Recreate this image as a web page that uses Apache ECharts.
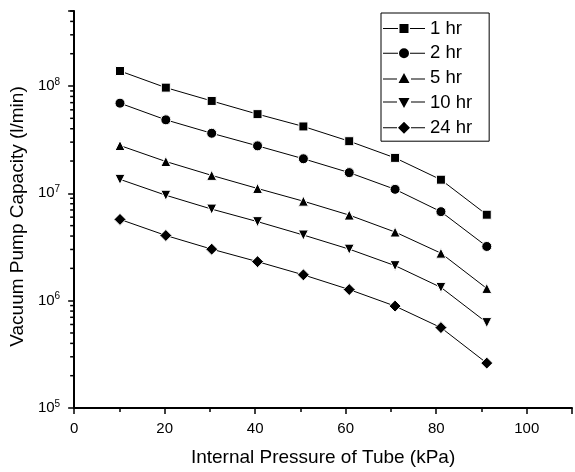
<!DOCTYPE html>
<html><head><meta charset="utf-8">
<script src="https://cdn.jsdelivr.net/npm/echarts@6/dist/echarts.min.js"></script>
<style>html,body{margin:0;padding:0;background:#fff}#c{width:575px;height:472px}</style>
</head><body><div id="c"></div>
<script>
// Internal pressure (kPa)
var pressure = [10.13, 20.26, 30.39, 40.52, 50.65, 60.78, 70.91, 81.04, 91.17];
var seriesNames = ['1 hr', '2 hr', '5 hr', '10 hr', '24 hr'];
var cap1hr  = [1.38e8, 9.66e7, 7.26e7, 5.47e7, 4.2e7, 3.06e7, 2.14e7, 1.34e7, 6.32e6];
var cap2hr  = [6.92e7, 4.84e7, 3.63e7, 2.77e7, 2.10e7, 1.56e7, 1.09e7, 6.75e6, 3.20e6];
var cap5hr  = [2.79e7, 1.98e7, 1.47e7, 1.11e7, 8.45e6, 6.27e6, 4.36e6, 2.77e6, 1.30e6];
var cap10hr = [1.35e7, 9.6e6, 7.13e6, 5.45e6, 4.09e6, 3.02e6, 2.12e6, 1.33e6, 6.25e5];
var cap24hr = [5.72e6, 4.05e6, 3.02e6, 2.31e6, 1.74e6, 1.27e6, 8.9e5, 5.61e5, 2.62e5];
var xTicks = [0, 20, 40, 60, 80, 100];
var yMinorTicks = [];
[1e5, 1e6, 1e7, 1e8].forEach(function (d) { for (var k = 2; k <= 9; k++) { if (k * d <= 5e8) yMinorTicks.push(k * d); } });

var FONT = 'Arial, "Liberation Sans", sans-serif';
var chart = echarts.init(document.getElementById('c'), null, {renderer: 'canvas'});
var symbols = ['rect', 'circle', 'triangle', 'triangle', 'diamond'];
var rot = [0, 0, 0, 180, 0];
var sizes = [9, 10, 10, 10, 12];
var allData = [cap1hr, cap2hr, cap5hr, cap10hr, cap24hr];

// legend icons: line sample with marker in the middle
var legendIcons = [
  'path://M0 4L15 4L15 5L0 5Z M27 4L42 4L42 5L27 5Z M16.5 0L25.5 0L25.5 9L16.5 9Z',
  'path://M0 4.5L15 4.5L15 5.5L0 5.5Z M27 4.5L42 4.5L42 5.5L27 5.5Z M16 5A5 5 0 1 1 26 5A5 5 0 1 1 16 5Z',
  'path://M0 5.5L14 5.5L14 6.5L0 6.5Z M28 5.5L42 5.5L42 6.5L28 6.5Z M21 0L26.5 10L15.5 10Z',
  'path://M0 3.5L14 3.5L14 4.5L0 4.5Z M28 3.5L42 3.5L42 4.5L28 4.5Z M15.5 0L26.5 0L21 10Z',
  'path://M0 5.5L14 5.5L14 6.5L0 6.5Z M28 5.5L42 5.5L42 6.5L28 6.5Z M21 0L27 6L21 12L15 6Z'
];

var series = allData.map(function (arr, i) {
  return {
    name: seriesNames[i], type: 'line',
    data: arr.map(function (v, j) { return [pressure[j], v]; }),
    symbol: symbols[i], symbolRotate: rot[i], symbolSize: sizes[i], showSymbol: true,
    lineStyle: {color: '#000', width: 1},
    itemStyle: {color: '#000', borderColor: '#fff', borderWidth: 1},
    z: 3, animation: false
  };
});
series.push({
  type: 'custom', name: 'minorTicks', silent: true, clip: false, animation: false,
  data: yMinorTicks.map(function (v) { return [0, v]; }),
  renderItem: function (params, api) {
    var p = api.coord([api.value(0), api.value(1)]);
    return {type: 'line', shape: {x1: p[0] - 4, y1: p[1], x2: p[0], y2: p[1]},
      style: {stroke: '#000', lineWidth: 1.5}};
  }
});

chart.setOption({
  backgroundColor: '#fff',
  animation: false,
  textStyle: {fontFamily: FONT, color: '#000'},
  grid: {left: 70, right: -1, top: 11, bottom: 61, containLabel: false},
  legend: {
    data: seriesNames.map(function (n, i) { return {name: n, icon: legendIcons[i]}; }),
    orient: 'vertical', left: 381, top: 13,
    padding: [6, 17, 4, 2], itemGap: 5.8, itemWidth: 42, itemHeight: 13,
    itemStyle: {color: '#000', borderWidth: 0},
    borderColor: '#000', borderWidth: 1, borderRadius: 0,
    textStyle: {fontFamily: FONT, fontSize: 18.5, color: '#000'}
  },
  xAxis: {
    type: 'value', min: 0, max: 110, interval: 20,
    name: 'Internal Pressure of Tube (kPa)', nameLocation: 'middle', nameGap: 40,
    nameTextStyle: {fontFamily: FONT, fontSize: 19, color: '#000'},
    axisLine: {show: true, lineStyle: {color: '#000', width: 2}},
    axisTick: {show: true, inside: false, length: 6, lineStyle: {color: '#000', width: 1.5}},
    minorTick: {show: true, splitNumber: 2, length: 4, lineStyle: {color: '#000', width: 1.5}},
    splitLine: {show: false},
    axisLabel: {fontFamily: FONT, fontSize: 15, color: '#000', margin: 13,
      formatter: function (v) { return xTicks.indexOf(v) >= 0 ? String(v) : ''; }}
  },
  yAxis: {
    type: 'log', logBase: 10, min: 1e5, max: 5e8,
    name: 'Vacuum Pump Capacity (l/min)', nameLocation: 'middle', nameGap: 46,
    nameRotate: 90,
    nameTextStyle: {fontFamily: FONT, fontSize: 19, color: '#000', padding: [0, 14, 0, 0]},
    axisLine: {show: true, lineStyle: {color: '#000', width: 2}},
    axisTick: {show: true, inside: false, length: 6, lineStyle: {color: '#000', width: 1.5}},
    splitLine: {show: false},
    axisLabel: {
      margin: 14, fontFamily: FONT, color: '#000',
      formatter: function (v) {
        var e = Math.log10(v);
        if (Math.abs(e - Math.round(e)) > 1e-6) return '';
        return '{b|10}{s|' + Math.round(e) + '}';
      },
      rich: {
        b: {fontFamily: FONT, fontSize: 15, color: '#000'},
        s: {fontFamily: FONT, fontSize: 10, color: '#000', verticalAlign: 'top', padding: [0, 0, 8, 0]}
      }
    }
  },
  series: series
});
</script></body></html>
